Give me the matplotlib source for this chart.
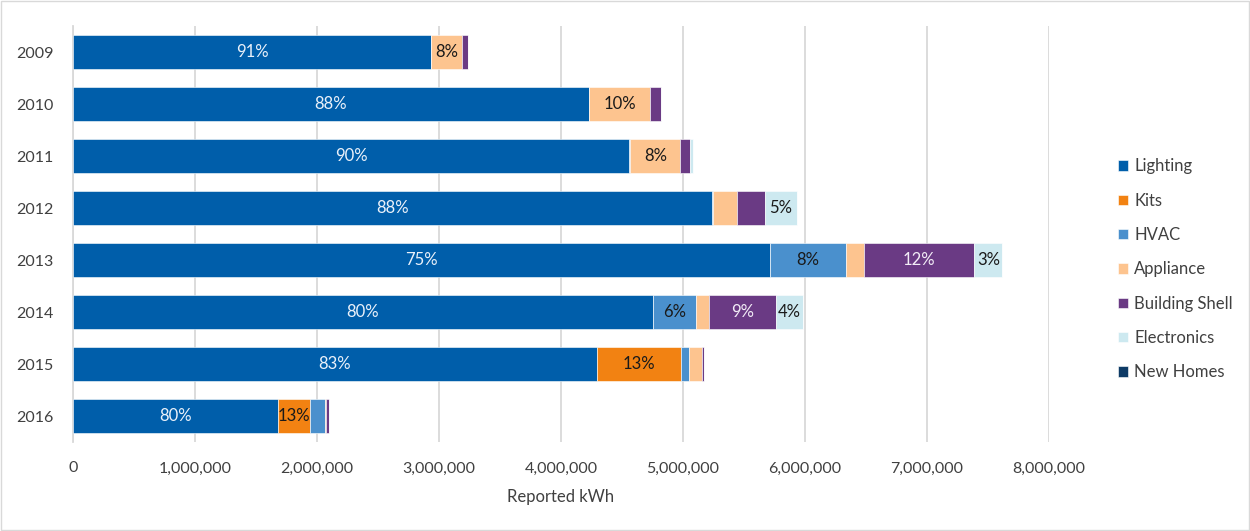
#!/usr/bin/env python3
# -*- coding: utf-8 -*-

import numpy as np
import matplotlib.pyplot as plt
from matplotlib.ticker import FuncFormatter

# DATA (reported kWh per program year)
years = ["2009", "2010", "2011", "2012", "2013", "2014", "2015", "2016"]
categories = ["Lighting", "Kits", "HVAC", "Appliance", "Building Shell", "Electronics", "New Homes"]

lighting = [2934000, 4230000, 4557000, 5236000, 5713000, 4754000, 4295000, 1680000]
kits = [0, 0, 0, 0, 0, 0, 690000, 262000]
hvac = [0, 0, 12000, 10000, 623000, 353000, 65000, 120000]
appliance = [254000, 500000, 410000, 197000, 147000, 106000, 106000, 8000]
building_shell = [52000, 90000, 80000, 229000, 905000, 550000, 18000, 25000]
electronics = [0, 0, 22000, 262000, 230000, 220000, 0, 0]
new_homes = [0, 0, 0, 0, 0, 0, 0, 0]

# data labels shown on the original chart ("" = none)
labels = {
    "Lighting": ["91%", "88%", "90%", "88%", "75%", "80%", "83%", "80%"],
    "Kits": ["", "", "", "", "", "", "13%", "13%"],
    "HVAC": ["", "", "", "", "8%", "6%", "", ""],
    "Appliance": ["8%", "10%", "8%", "", "", "", "", ""],
    "Building Shell": ["", "", "", "", "12%", "9%", "", ""],
    "Electronics": ["", "", "", "5%", "3%", "4%", "", ""],
    "New Homes": ["", "", "", "", "", "", "", ""],
}

series = [lighting, kits, hvac, appliance, building_shell, electronics, new_homes]
colors = ["#005EAA", "#F28212", "#4A90CD", "#FDC48F", "#6A3A84", "#CDE9F0", "#0E3B66"]
label_colors = ["#EAF1FA", "#1a1a1a", "#1a1a1a", "#1a1a1a", "#F2ECF6", "#1a1a1a", "white"]

plt.rcParams["font.family"] = ["Lato", "DejaVu Sans"]

fig = plt.figure(figsize=(12.5, 5.31), dpi=100)
ax = fig.add_axes([0.0584, 0.1676, 0.7808, 0.7834])

y = np.arange(len(years))
left = np.zeros(len(years))
for name, vals, col, lcol in zip(categories, series, colors, label_colors):
    vals = np.asarray(vals, dtype=float)
    ax.barh(y, vals, left=left, height=0.66, color=col, edgecolor="white",
            linewidth=0.4, label=name, zorder=3)
    for i, txt in enumerate(labels[name]):
        if txt:
            ax.text(left[i] + vals[i] / 2, y[i], txt, ha="center", va="center",
                    fontsize=12, color=lcol, zorder=4)
    left += vals

ax.set_xlim(0, 8000000)
ax.set_ylim(len(years) - 0.5, -0.5)
ax.set_yticks(y)
ax.set_yticklabels(years)
ax.set_xticks(np.arange(0, 8000001, 1000000))
ax.xaxis.set_major_formatter(FuncFormatter(lambda v, p: f"{int(v):,}"))
ax.tick_params(axis="both", length=0, labelsize=11.5, colors="#404040")
ax.tick_params(axis="x", pad=14)
ax.tick_params(axis="y", pad=14)
ax.grid(axis="x", color="#D9D9D9", linewidth=1.3, zorder=0)
for s in ["top", "right", "bottom"]:
    ax.spines[s].set_visible(False)
ax.spines["left"].set_color("#D9D9D9")
ax.spines["left"].set_linewidth(1.3)
ax.set_xlabel("Reported kWh", fontsize=12, color="#404040", labelpad=10)

ax.legend(loc="center left", bbox_to_anchor=(1.055, 0.415), frameon=False,
          fontsize=12, handlelength=0.6, handleheight=0.6, handletextpad=0.4,
          labelspacing=1.1, labelcolor="#404040")

# thin border around the whole chart
fig.patches.append(plt.Rectangle((0.001, 0.002), 0.998, 0.996, transform=fig.transFigure,
                                 fill=False, edgecolor="#D9D9D9", linewidth=1))

fig.savefig("out.png", dpi=100)
plt.close(fig)
